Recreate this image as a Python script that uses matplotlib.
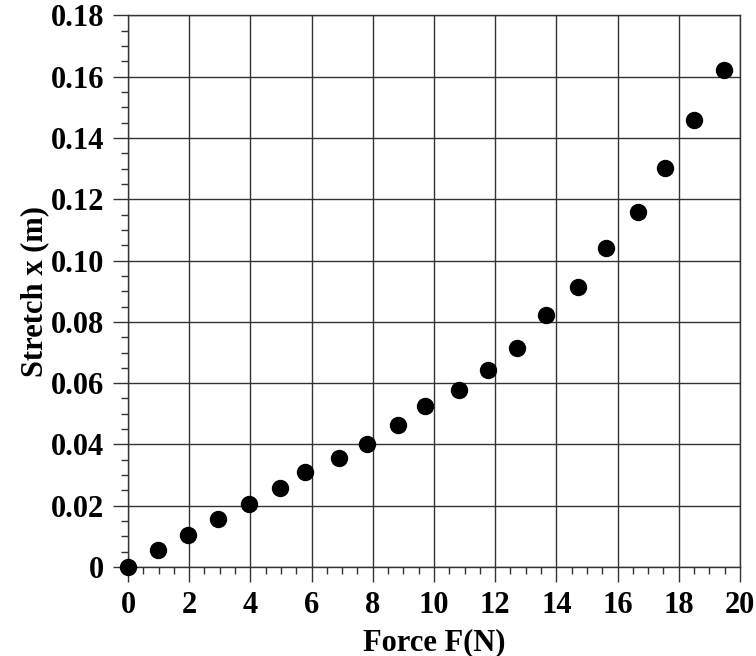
import matplotlib.pyplot as plt
from matplotlib.ticker import MultipleLocator, FuncFormatter

# 读数：拉力与伸长量
force = [0, 0.99, 1.96, 2.95, 3.94, 4.97, 5.8, 6.89, 7.8, 8.83, 9.71,
         10.81, 11.75, 12.72, 13.67, 14.72, 15.63, 16.68, 17.55, 18.51, 19.48]
stretch = [0, 0.0056, 0.0105, 0.0155, 0.0205, 0.0259, 0.031, 0.0355, 0.040,
           0.0464, 0.0526, 0.0579, 0.0643, 0.0716, 0.0823, 0.0913, 0.1041,
           0.1159, 0.1301, 0.146, 0.1622]

plt.rcParams['font.family'] = ['Liberation Serif', 'DejaVu Serif']
plt.rcParams['font.weight'] = 'bold'

fig = plt.figure(figsize=(7.56, 6.56), dpi=100)
ax = fig.add_axes([0.1693, 0.1357, 0.8095, 0.8407])

ax.plot(force, stretch, 'o', color='black', markersize=11.5, clip_on=False, zorder=5)

ax.set_xlim(0, 20)
ax.set_ylim(0, 0.18)
ax.xaxis.set_major_locator(MultipleLocator(2))
ax.xaxis.set_minor_locator(MultipleLocator(0.5))
ax.yaxis.set_major_locator(MultipleLocator(0.02))
ax.yaxis.set_minor_locator(MultipleLocator(0.005))
ax.yaxis.set_major_formatter(FuncFormatter(lambda v, p: "0" if abs(v) < 1e-9 else f"{v:.2f}"))
ax.xaxis.set_major_formatter(FuncFormatter(lambda v, p: f"{v:.0f}"))

ax.grid(True, which='major', color='#333333', linewidth=1.0)
for s in ax.spines.values():
    s.set_color('#333333')
    s.set_linewidth(1.0)

ax.tick_params(which='major', direction='out', length=11, width=1.0, color='#333333',
               labelsize=22, pad=6)
ax.tick_params(which='minor', direction='out', length=5, width=1.0, color='#333333')
for lab in ax.get_xticklabels() + ax.get_yticklabels():
    lab.set_fontweight('bold')

ax.set_xlabel("Force F(N)", fontsize=22, fontweight='bold', labelpad=6)
ax.set_ylabel("Stretch x (m)", fontsize=22, fontweight='bold', labelpad=1)

fig.savefig("out.png", dpi=100)
